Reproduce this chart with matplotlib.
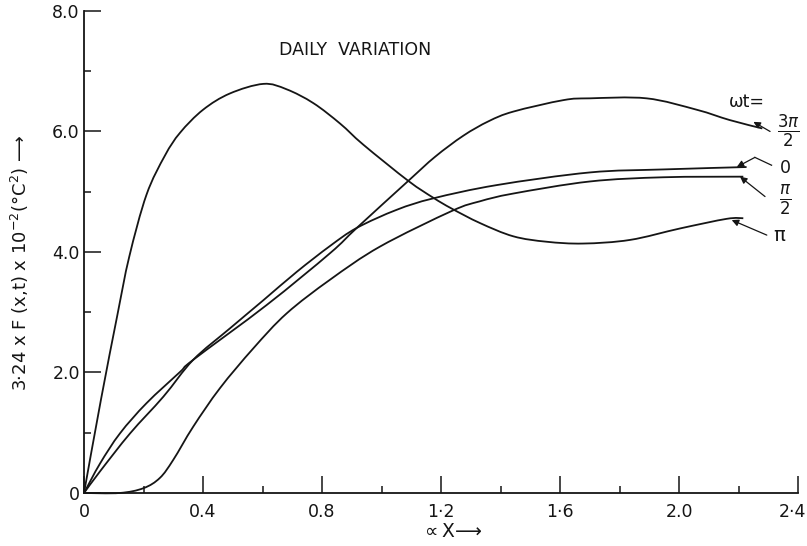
import matplotlib
matplotlib.use('Agg')
import matplotlib.pyplot as plt
import matplotlib.transforms as mtransforms
from matplotlib.path import Path
from matplotlib.patches import PathPatch
from matplotlib.ticker import MultipleLocator

# Curves, one per phase wt
x_pi = [0, 0.057, 0.112, 0.152, 0.21, 0.272, 0.323, 0.40, 0.49, 0.603, 0.681,
        0.771, 0.861, 0.939, 1.09, 1.174, 1.236, 1.331, 1.443, 1.555, 1.678,
        1.835, 2.003, 2.16, 2.216]
y_pi = [0, 1.55, 2.95, 3.92, 4.95, 5.6, 5.98, 6.36, 6.63, 6.79, 6.70,
        6.47, 6.13, 5.78, 5.18, 4.90, 4.72, 4.48, 4.26, 4.17, 4.14,
        4.20, 4.39, 4.55, 4.56]

x_3pi2 = [0, 0.054, 0.121, 0.21, 0.323, 0.367, 0.614, 0.827, 0.917, 1.09,
          1.18, 1.275, 1.36, 1.443, 1.611, 1.70, 1.891, 2.06, 2.17, 2.28]
y_3pi2 = [0, 0.49, 0.99, 1.49, 2.01, 2.21, 3.12, 3.98, 4.40, 5.18,
          5.58, 5.93, 6.17, 6.33, 6.52, 6.55, 6.55, 6.36, 6.19, 6.05]

x_0 = [0, 0.054, 0.155, 0.267, 0.367, 0.49, 0.603, 0.715, 0.827, 0.917,
       1.051, 1.174, 1.387, 1.70, 1.947, 2.227]
y_0 = [0, 0.36, 0.99, 1.60, 2.21, 2.73, 3.20, 3.67, 4.10, 4.40,
       4.70, 4.89, 5.11, 5.32, 5.37, 5.41]

x_pi2 = [0, 0.12, 0.2, 0.255, 0.30, 0.367, 0.457, 0.569, 0.681,
         0.827, 0.995, 1.236, 1.33, 1.443, 1.70, 1.947, 2.216]
y_pi2 = [0, 0, 0.08, 0.25, 0.55, 1.10, 1.74, 2.40, 2.98,
         3.54, 4.09, 4.68, 4.84, 4.97, 5.17, 5.24, 5.25]

x_ticks = [0, 0.4, 0.8, 1.2, 1.6, 2.0, 2.4]
x_ticklabels = ['0', '0.4', '0.8', '1·2', '1·6', '2.0', '2·4']
y_ticks = [0, 2, 4, 6, 8]
y_ticklabels = ['0', '2.0', '4.0', '6.0', '8.0']

plt.rcParams['font.family'] = ['DejaVu Sans']

lc = '#151515'


def smooth_path(xs, ys):
    # the read points joined by Catmull-Rom style cubic Bezier pieces
    pts = list(zip(xs, ys))
    n = len(pts)
    verts = [pts[0]]
    codes = [Path.MOVETO]
    for i in range(n - 1):
        p0 = pts[i - 1] if i > 0 else pts[i]
        p1 = pts[i]
        p2 = pts[i + 1]
        p3 = pts[i + 2] if i + 2 < n else pts[i + 1]
        c1 = (p1[0] + (p2[0] - p0[0]) / 6, p1[1] + (p2[1] - p0[1]) / 6)
        c2 = (p2[0] - (p3[0] - p1[0]) / 6, p2[1] - (p3[1] - p1[1]) / 6)
        verts += [c1, c2, p2]
        codes += [Path.CURVE4] * 3
    return Path(verts, codes)


fig = plt.figure(figsize=(8.07, 5.46), dpi=100)
ax = fig.add_axes([0.1041, 0.0971, 0.8848, 0.8828])

for xs, ys in [(x_pi, y_pi), (x_3pi2, y_3pi2), (x_0, y_0), (x_pi2, y_pi2)]:
    ax.add_patch(PathPatch(smooth_path(xs, ys), facecolor='none',
                           edgecolor=lc, lw=1.3, clip_on=False))

ax.set_xlim(0, 2.4)
ax.set_ylim(0, 8)
ax.spines['top'].set_visible(False)
ax.spines['right'].set_visible(False)
for s in ['left', 'bottom']:
    ax.spines[s].set_linewidth(1.3)
    ax.spines[s].set_color(lc)

ax.set_xticks(x_ticks)
ax.set_xticklabels(x_ticklabels)
ax.set_yticks(y_ticks)
ax.set_yticklabels(y_ticklabels)
ax.xaxis.set_minor_locator(MultipleLocator(0.2))
ax.yaxis.set_minor_locator(MultipleLocator(1.0))
ax.tick_params(which='major', direction='in', length=12, width=1.1,
               labelsize=12.5, colors=lc)
ax.tick_params(which='minor', direction='in', length=5, width=1.1, colors=lc)
ax.tick_params(axis='x', pad=7)
ax.tick_params(axis='y', pad=3)

# last x label sits tight against the right edge
last = ax.get_xticklabels()[-1]
last.set_transform(last.get_transform() +
                   mtransforms.ScaledTranslation(-6 / 100, 0,
                                                 fig.dpi_scale_trans))

ax.text(0.91, 7.35, 'DAILY  VARIATION', fontsize=12.5, ha='center',
        va='center', color=lc)

fig.text(0.025, 0.518, '3·24 x F (x,t) x 10$^{-2}$(°C$^{2}$) ⟶', rotation=90,
         fontsize=13, ha='center', va='center', color=lc)
fig.text(0.56, 0.027, r'$\propto$X⟶', fontsize=13.5, ha='center',
         va='center', color=lc)

# phase labels on the right
ax.text(2.229, 6.49, 'ωt=', fontsize=12.5, ha='center', va='center', color=lc)
ax.text(2.366, 6.0, r'$\frac{3\pi}{2}$', fontsize=17, ha='center', va='center',
        color=lc)
ax.text(2.356, 5.39, '0', fontsize=12.5, ha='center', va='center', color=lc)
ax.text(2.356, 4.84, r'$\frac{\pi}{2}$', fontsize=17, ha='center', va='center',
        color=lc)
ax.text(2.336, 4.28, 'π', fontsize=14, ha='center', va='center', color=lc)

arrow = dict(arrowstyle='-|>', color=lc, lw=0.9, mutation_scale=10,
             shrinkA=0, shrinkB=0)
ax.annotate('', xy=(2.25, 6.16), xytext=(2.306, 6.0), arrowprops=arrow)
ax.plot([2.311, 2.255], [5.44, 5.57], color=lc, lw=0.9, clip_on=False)
ax.annotate('', xy=(2.194, 5.41), xytext=(2.255, 5.57), arrowprops=arrow)
ax.annotate('', xy=(2.205, 5.25), xytext=(2.289, 4.92), arrowprops=arrow)
ax.annotate('', xy=(2.177, 4.53), xytext=(2.295, 4.28), arrowprops=arrow)

fig.savefig('out.png', dpi=100)
